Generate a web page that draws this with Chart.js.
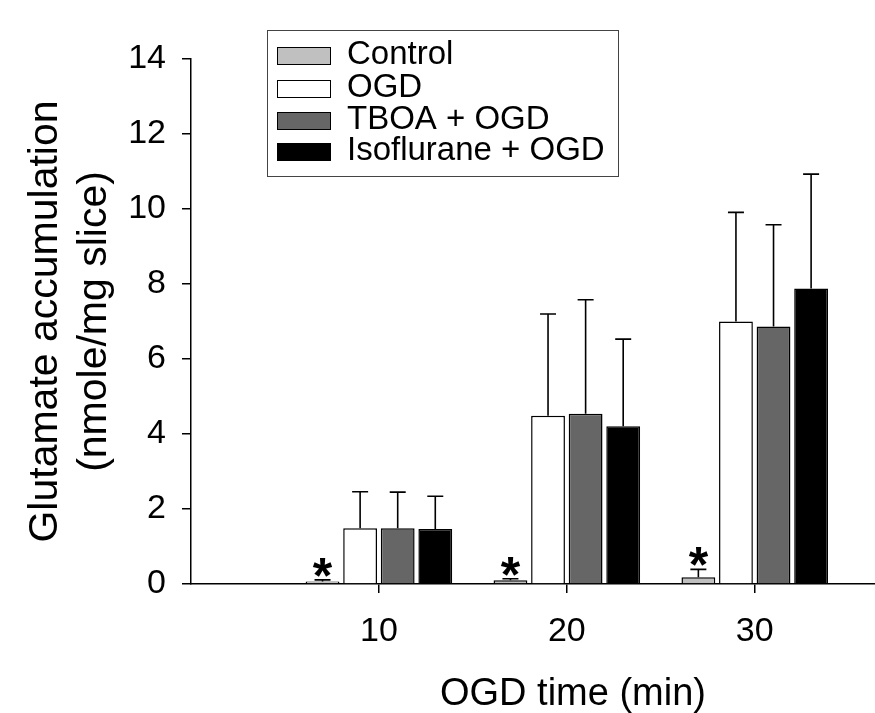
<!DOCTYPE html>
<html>
<head>
<meta charset="utf-8">
<script src="https://cdn.jsdelivr.net/npm/chart.js@4.4.0/dist/chart.umd.min.js"></script>
<style>
  html, body { margin: 0; padding: 0; background: #fff; overflow: hidden; }
  .grafico { width: 875px; height: 713px; position: relative; }
</style>
</head>
<body>
<div class="grafico"><canvas id="glutamatoChart"></canvas></div>
<script>
// Dados
const tempos = [10, 20, 30];
const rotulosY = [0, 2, 4, 6, 8, 10, 12, 14];
const nomes = ['Control', 'OGD', 'TBOA + OGD', 'Isoflurane + OGD'];

const controle = [0.07, 0.10, 0.18];
const controleErro = [0.04, 0.04, 0.21];
const controleSignif = [true, true, true];

const ogd = [1.49, 4.49, 7.00];
const ogdErro = [0.97, 2.71, 2.91];

const tboa = [1.49, 4.54, 6.87];
const tboaErro = [0.96, 3.04, 2.71];

const iso = [1.47, 4.21, 7.88];
const isoErro = [0.87, 2.32, 3.05];

const cores = ['#c0c0c0', '#ffffff', '#666666', '#000000'];
const fonte = '"Liberation Sans", Arial, sans-serif';

const pontos = (valores) => tempos.map((t, i) => ({ x: t, y: valores[i] }));

const montaSerie = (idx, valores, erro, signif) => ({
    label: nomes[idx],
    data: pontos(valores),
    erro: erro,
    signif: signif || null,
    backgroundColor: cores[idx],
    borderColor: '#000',
    borderWidth: 1.5
});

// Barras de erro (só para cima) e asteriscos
const barrasErro = {
    id: 'barrasErro',
    afterDatasetsDraw(chart) {
        const ctx = chart.ctx;
        const yScale = chart.scales.y;
        chart.data.datasets.forEach((ds, i) => {
            const meta = chart.getDatasetMeta(i);
            meta.data.forEach((bar, j) => {
                const topo = yScale.getPixelForValue(ds.data[j].y + ds.erro[j]);
                ctx.save();
                ctx.strokeStyle = '#000';
                ctx.lineWidth = 1.6;
                ctx.beginPath();
                ctx.moveTo(bar.x, bar.y);
                ctx.lineTo(bar.x, topo);
                ctx.moveTo(bar.x - 8, topo);
                ctx.lineTo(bar.x + 8, topo);
                ctx.stroke();
                if (ds.signif && ds.signif[j]) {
                    ctx.fillStyle = '#000';
                    ctx.font = 'bold 50px ' + fonte;
                    ctx.textAlign = 'center';
                    ctx.textBaseline = 'alphabetic';
                    ctx.fillText('*', bar.x, topo + 13);
                }
                ctx.restore();
            });
        });
    }
};

// Legenda em caixa e título do eixo X
const legendaCaixa = {
    id: 'legendaCaixa',
    afterDraw(chart) {
        const ctx = chart.ctx;
        ctx.save();
        ctx.strokeStyle = '#444';
        ctx.lineWidth = 1;
        ctx.fillStyle = '#fff';
        ctx.fillRect(267.5, 30.5, 351, 146);
        ctx.strokeRect(267.5, 30.5, 351, 146);
        const bases = [64, 97, 129, 160];
        chart.data.datasets.forEach((ds, i) => {
            const b = bases[i];
            ctx.fillStyle = ds.backgroundColor;
            ctx.fillRect(277.5, b - 16.5, 53, 17);
            ctx.strokeStyle = '#000';
            ctx.lineWidth = 1;
            ctx.strokeRect(277.5, b - 16.5, 53, 17);
            ctx.fillStyle = '#000';
            ctx.font = '33px ' + fonte;
            ctx.textAlign = 'left';
            ctx.textBaseline = 'alphabetic';
            ctx.fillText(ds.label, 347, b);
        });
        ctx.font = '38px ' + fonte;
        ctx.textAlign = 'center';
        ctx.fillText('OGD time (min)', 573, 705);
        ctx.restore();
    }
};

const ctx = document.getElementById('glutamatoChart');
new Chart(ctx, {
    type: 'bar',
    data: {
        datasets: [
            montaSerie(0, controle, controleErro, controleSignif),
            montaSerie(1, ogd, ogdErro),
            montaSerie(2, tboa, tboaErro),
            montaSerie(3, iso, isoErro)
        ]
    },
    options: {
        responsive: true,
        maintainAspectRatio: false,
        animation: false,
        layout: { padding: { top: 59, right: 0, bottom: 0, left: 0 } },
        plugins: {
            legend: { display: false },
            tooltip: { enabled: false }
        },
        scales: {
            x: {
                type: 'linear',
                min: 0,
                max: 36.4,
                offset: false,
                afterBuildTicks: (s) => { s.ticks = tempos.map(v => ({ value: v })); },
                afterFit: (s) => { s.height = 129; s.paddingLeft = 0; s.paddingRight = 0; },
                ticks: { color: '#000', font: { family: fonte, size: 34 }, padding: 18, maxRotation: 0 },
                grid: { offset: false, drawOnChartArea: false, drawTicks: true, tickLength: 9, color: '#000', lineWidth: 1.5 },
                border: { display: true, color: '#000', width: 1.5 }
            },
            y: {
                min: 0,
                max: 14,
                afterBuildTicks: (s) => { s.ticks = rotulosY.map(v => ({ value: v })); },
                afterFit: (s) => { s.width = 191; },
                ticks: { color: '#000', font: { family: fonte, size: 34 }, padding: 16 },
                grid: { drawOnChartArea: false, drawTicks: true, tickLength: 9, color: '#000', lineWidth: 1.5 },
                border: { display: true, color: '#000', width: 1.5 },
                title: {
                    display: true,
                    text: ['Glutamate accumulation', '(nmole/mg slice)'],
                    color: '#000',
                    font: { family: fonte, size: 41, lineHeight: 1.2 },
                    padding: { top: 21, bottom: 0 }
                }
            }
        }
    },
    plugins: [barrasErro, legendaCaixa]
});
</script>
</body>
</html>
